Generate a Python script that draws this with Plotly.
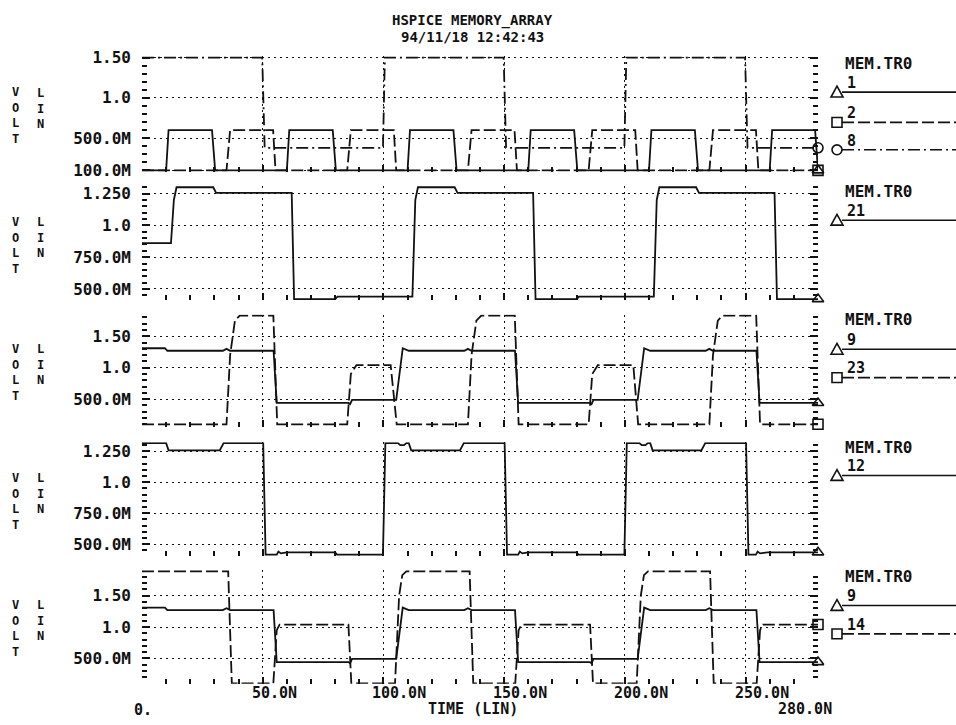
import plotly.graph_objects as go

# ---------------- waveform data (time in ns, voltage in V) ----------------
# MEM.TR0 node 1
t_1 = [0, 10, 11, 29, 30.3, 60, 61, 79, 80.3, 110, 111, 129, 130.3,
       160, 161, 179, 180.3, 210, 211, 229, 230.3, 260, 261, 278.8, 280]
v_1 = [0.1, 0.1, 0.6, 0.6, 0.1, 0.1, 0.6, 0.6, 0.1, 0.1, 0.6, 0.6, 0.1,
       0.1, 0.6, 0.6, 0.1, 0.1, 0.6, 0.6, 0.1, 0.1, 0.6, 0.6, 0.1]

# node 2
t_2 = [0, 35, 36.5, 54.3, 55.3, 85, 86.5, 104.3, 105.3, 135, 136.5, 154.3, 155.3,
       185, 186.5, 204.3, 205.3, 235, 236.5, 254.3, 255.3, 280]
v_2 = [0.1, 0.1, 0.6, 0.6, 0.1, 0.1, 0.6, 0.6, 0.1, 0.1, 0.6, 0.6, 0.1,
       0.1, 0.6, 0.6, 0.1, 0.1, 0.6, 0.6, 0.1, 0.1]

# node 8
t_8 = [0, 49.8, 50.8, 99.8, 100.6, 149.8, 150.8, 199.8, 200.6, 249.8, 250.8, 280]
v_8 = [1.5, 1.5, 0.38, 0.38, 1.5, 1.5, 0.38, 0.38, 1.5, 1.5, 0.38, 0.38]

# node 21
t_21 = [0, 12, 13.2, 14.3, 29.5, 30.7, 62, 63, 80, 81, 112, 113.2, 114.3, 129.5,
        130.7, 162, 163, 180, 181, 212, 213.2, 214.3, 229.5, 230.7, 262, 263, 280]
v_21 = [0.86, 0.86, 1.2, 1.30, 1.30, 1.255, 1.255, 0.42, 0.42, 0.44, 0.44, 1.2, 1.30, 1.30,
        1.255, 1.255, 0.42, 0.42, 0.44, 0.44, 1.2, 1.30, 1.30, 1.255, 1.255, 0.42, 0.42]

# node 9
t_9 = [0, 9.5, 10.5, 33.5, 35, 36.5, 54.5, 55.8, 85.5, 86.2, 87, 105.3, 108, 110.5,
       133.5, 135, 136.5, 154.5, 155.8, 185.5, 186.2, 187, 205.3, 208, 210.5,
       233.5, 235, 236.5, 254.5, 255.8, 280]
v_9 = [1.31, 1.31, 1.27, 1.27, 1.30, 1.27, 1.27, 0.44, 0.44, 0.42, 0.49, 0.49, 1.31, 1.27,
       1.27, 1.30, 1.27, 1.27, 0.44, 0.44, 0.42, 0.49, 0.49, 1.31, 1.27,
       1.27, 1.30, 1.27, 1.27, 0.44, 0.44]

# node 23
t_23 = [0, 35, 36.5, 38.5, 40.5, 54.4, 56, 85, 86.5, 88.8, 103, 105.5,
        135, 136.5, 138.5, 140.5, 154.4, 156, 185, 186.5, 188.8, 203.5, 205.5,
        235, 236.5, 238.5, 240.5, 254.4, 256, 280]
v_23 = [0.1, 0.1, 1.2, 1.75, 1.83, 1.83, 0.1, 0.1, 0.9, 1.04, 1.04, 0.1,
        0.1, 1.2, 1.75, 1.83, 1.83, 0.1, 0.1, 0.9, 1.04, 1.04, 0.1,
        0.1, 1.2, 1.75, 1.83, 1.83, 0.1, 0.1]

# node 12
t_12 = [0, 10, 11, 32.2, 33.8, 50.2, 51.2, 55.8, 56.5, 57.5, 60, 80, 80.8, 99.8,
        100.8, 106, 107, 108.5, 109.5, 110.5, 111.5, 131.7, 133.3, 150.2, 151.2,
        155.8, 156.5, 157.5, 160, 180, 180.8, 199.8,
        200.8, 206, 207, 208.5, 209.5, 210.5, 211.5, 231.7, 233.3, 250.2, 251.2,
        254.3, 255, 256, 259, 280]
v_12 = [1.316, 1.316, 1.258, 1.258, 1.316, 1.316, 0.416, 0.416, 0.44, 0.426, 0.434, 0.434, 0.416, 0.416,
        1.316, 1.316, 1.30, 1.30, 1.316, 1.316, 1.258, 1.258, 1.316, 1.316, 0.416,
        0.416, 0.44, 0.426, 0.434, 0.434, 0.416, 0.416,
        1.316, 1.316, 1.30, 1.30, 1.316, 1.316, 1.258, 1.258, 1.316, 1.316, 0.416,
        0.416, 0.44, 0.426, 0.434, 0.434]

# node 14
t_14 = [0, 35.7, 37.2, 54.4, 55.8, 57, 85.5, 86.7, 104.8, 106.5, 107.8, 109.5,
        135.7, 137.2, 154.6, 156, 157.2, 185.6, 186.8, 204.9, 206.6, 207.9, 209.6,
        235.3, 236.8, 254.6, 256, 257.2, 280]
v_14 = [1.89, 1.89, 0.1, 0.1, 0.95, 1.04, 1.04, 0.1, 0.1, 1.5, 1.83, 1.89,
        1.89, 0.1, 0.1, 0.95, 1.04, 1.04, 0.1, 0.1, 1.5, 1.83, 1.89,
        1.89, 0.1, 0.1, 0.95, 1.04, 1.04]

# ---------------- axis tick labels ----------------
y_ticks_a = [0.1, 0.5, 1.0, 1.5]
y_text_a = ["100.0M", "500.0M", "1.0", "1.50"]
y_ticks_b = [0.5, 0.75, 1.0, 1.25]
y_text_b = ["500.0M", "750.0M", "1.0", "1.250"]
y_ticks_c = [0.5, 1.0, 1.5]
y_text_c = ["500.0M", "1.0", "1.50"]
x_ticks = [50, 100, 150, 200, 250]
x_text = ["50.0N", "100.0N", "150.0N", "200.0N", "250.0N"]
T_MAX = 280

# ---------------- styling ----------------
W, H = 956, 725
X_LEFT, X_RIGHT = 142, 818
INK = "#111111"
FONT = "DejaVu Sans Mono"
SOLID = "solid"
DASH = "12px,4px"
DASHDOT = "12px,4px,2px,4px"
GRID = "2px,4px"
SYMBOL = {"tri": "triangle-up-open", "sq": "square-open", "circ": "circle-open"}


def fx(x):
    return x / W


def fy(y):
    return 1 - y / H


def y_range(va, pa, vb, pb, top, bot):
    k = (pb - pa) / (va - vb)
    return [vb - (bot - pb) / k, va + (pa - top) / k]


panels = [
    dict(ref=(1.5, 50.7, 0.1, 166.0), box=(49.2, 167.5), ticks=y_ticks_a, text=y_text_a, minor=0.1,
         traces=[("1", t_1, v_1, SOLID, "tri"), ("2", t_2, v_2, DASH, "sq"), ("8", t_8, v_8, DASHDOT, "circ")],
         legend_top=60, legend_rows=[86, 117, 145]),
    dict(ref=(1.25, 189.8, 0.5, 287.3), box=(182.0, 299.0), ticks=y_ticks_b, text=y_text_b, minor=0.05,
         traces=[("21", t_21, v_21, SOLID, "tri")],
         legend_top=191, legend_rows=[217]),
    dict(ref=(1.5, 335.7, 0.5, 400.0), box=(313.5, 428.0), ticks=y_ticks_c, text=y_text_c, minor=0.1,
         traces=[("9", t_9, v_9, SOLID, "tri"), ("23", t_23, v_23, DASH, "sq")],
         legend_top=322, legend_rows=[349, 378]),
    dict(ref=(1.25, 453.3, 0.5, 548.3), box=(444.0, 560.5), ticks=y_ticks_b, text=y_text_b, minor=0.05,
         traces=[("12", t_12, v_12, SOLID, "tri")],
         legend_top=452, legend_rows=[478]),
    dict(ref=(1.5, 601.0, 0.5, 665.0), box=(574.5, 691.0), ticks=y_ticks_c, text=y_text_c, minor=0.1,
         traces=[("9", t_9, v_9, SOLID, "tri"), ("14", t_14, v_14, DASH, "sq")],
         legend_top=584, legend_rows=[611, 640]),
]

fig = go.Figure()
layout = dict(
    width=W, height=H, margin=dict(l=0, r=0, t=0, b=0),
    paper_bgcolor="white", plot_bgcolor="white", showlegend=False,
    font=dict(family=FONT, color=INK, size=16),
)
annotations = []
shapes = []

tick_font = dict(family=FONT, size=16, color=INK, weight="bold")

for i, p in enumerate(panels, start=1):
    sfx = "" if i == 1 else str(i)
    top, bot = p["box"]
    va, pa, vb, pb = p["ref"]
    layout["xaxis" + sfx] = dict(
        domain=[fx(X_LEFT), fx(X_RIGHT)], range=[0, T_MAX], anchor="y" + sfx,
        tickmode="array", tickvals=x_ticks, showticklabels=False,
        ticks="inside", ticklen=7, tickwidth=1.5, tickcolor=INK,
        showgrid=True, gridcolor=INK, griddash=GRID, gridwidth=1.4,
        minor=dict(tickmode="linear", tick0=0, dtick=10, ticks="inside", ticklen=5,
                   tickwidth=1.5, tickcolor=INK, showgrid=False),
        showline=False, zeroline=False, fixedrange=True,
    )
    layout["yaxis" + sfx] = dict(
        domain=[fy(bot), fy(top)], range=y_range(va, pa, vb, pb, top, bot), anchor="x" + sfx,
        tickmode="array", tickvals=p["ticks"], ticktext=p["text"],
        ticks="inside", ticklen=8, tickwidth=1.5, tickcolor=INK, mirror="ticks",
        ticklabelstandoff=10, tickfont=tick_font,
        showgrid=True, gridcolor=INK, griddash=GRID, gridwidth=1.4,
        minor=dict(tickmode="linear", tick0=0, dtick=p["minor"], ticks="inside", ticklen=5,
                   tickwidth=1.5, tickcolor=INK, showgrid=False),
        showline=False, zeroline=False, fixedrange=True,
    )

    for name, t, v, dash, sym in p["traces"]:
        fig.add_trace(go.Scatter(
            x=t, y=v, mode="lines", xaxis="x" + sfx, yaxis="y" + sfx,
            line=dict(color=INK, width=1.8, dash=dash), hoverinfo="skip",
        ))
        # end-of-trace identification marker
        fig.add_trace(go.Scatter(
            x=[t[-1]], y=[v[-1]], mode="markers", xaxis="x" + sfx, yaxis="y" + sfx,
            marker=dict(symbol=SYMBOL[sym], size=10, color=INK, line=dict(color=INK, width=1.6)),
            cliponaxis=False, hoverinfo="skip",
        ))

    # left-hand unit labels, one letter per line
    mid = (top + bot) / 2 + 2
    for col_x, word, y_off in ((16, "VOLT", 0), (40, "LIN", -8)):
        annotations.append(dict(
            x=fx(col_x), y=fy(mid + y_off), xref="paper", yref="paper",
            text="<br>".join(word), showarrow=False, xanchor="center", yanchor="middle",
            font=dict(family=FONT, size=12, color=INK, weight="bold"),
        ))

    # legend block at the right
    annotations.append(dict(
        x=fx(843), y=fy(p["legend_top"] - 3), xref="paper", yref="paper", text="MEM.TR0",
        showarrow=False, xanchor="left", yanchor="middle",
        font=dict(family=FONT, size=16, color=INK, weight="bold"),
    ))
    for (name, t, v, dash, sym), row in zip(p["traces"], p["legend_rows"]):
        annotations.append(dict(
            x=fx(845), y=fy(row - 9.5), xref="paper", yref="paper", text=name,
            showarrow=False, xanchor="left", yanchor="middle",
            font=dict(family=FONT, size=15, color=INK, weight="bold"),
        ))
        shapes.append(dict(type="line", xref="paper", yref="paper",
                           x0=fx(842), x1=1.0, y0=fy(row), y1=fy(row),
                           line=dict(color=INK, width=1.6, dash=dash)))
        if sym == "tri":
            path = "M {} {} L {} {} L {} {} Z".format(
                fx(837), fy(row - 6), fx(831), fy(row + 5), fx(843), fy(row + 5))
            shapes.append(dict(type="path", xref="paper", yref="paper", path=path,
                               line=dict(color=INK, width=1.6)))
        elif sym == "sq":
            shapes.append(dict(type="rect", xref="paper", yref="paper",
                               x0=fx(832), x1=fx(842), y0=fy(row + 5), y1=fy(row - 5),
                               line=dict(color=INK, width=1.6)))
        else:
            shapes.append(dict(type="circle", xref="paper", yref="paper",
                               x0=fx(832), x1=fx(842), y0=fy(row + 5), y1=fy(row - 5),
                               line=dict(color=INK, width=1.6)))

# time-axis labels under the last panel
label_font = dict(family=FONT, size=15, color=INK, weight="bold")
for xv, txt in zip(x_ticks, x_text):
    annotations.append(dict(
        x=xv, y=fy(700), xref="x5", yref="paper", text=txt, showarrow=False,
        xanchor="left", yanchor="middle", xshift=-13, font=label_font,
    ))
annotations.append(dict(x=0, y=fy(717.5), xref="x5", yref="paper", text="0.", showarrow=False,
                        xanchor="left", yanchor="middle", xshift=-10, font=label_font))
annotations.append(dict(x=T_MAX, y=fy(717), xref="x5", yref="paper", text="280.0N", showarrow=False,
                        xanchor="center", yanchor="middle", xshift=-13, font=label_font))
annotations.append(dict(x=fx(473), y=fy(717), xref="paper", yref="paper", text="TIME (LIN)",
                        showarrow=False, xanchor="center", yanchor="middle", font=label_font))

# heading
head_font = dict(family=FONT, size=14, color=INK, weight="bold")
annotations.append(dict(x=fx(472), y=fy(12.5), xref="paper", yref="paper", text="HSPICE MEMORY_ARRAY",
                        showarrow=False, xanchor="center", yanchor="middle", font=head_font))
annotations.append(dict(x=fx(472), y=fy(29.5), xref="paper", yref="paper", text="94/11/18 12:42:43",
                        showarrow=False, xanchor="center", yanchor="middle", font=head_font))

layout["annotations"] = annotations
layout["shapes"] = shapes
fig.update_layout(layout)
fig.write_html("out.html", config={"displayModeBar": False})
